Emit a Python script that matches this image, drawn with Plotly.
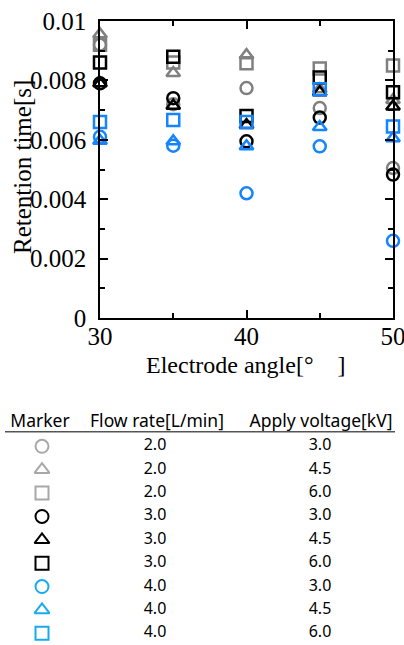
import plotly.graph_objects as go

angles = [30, 35, 40, 45, 50]

# Retention time [s]
gray_circle = [0.0092, 0.0072, 0.00774, 0.00707, 0.00505]
gray_triangle = [0.00955, 0.00825, 0.00885, 0.0077, 0.00734]
gray_square = [0.0092, 0.0086, 0.00858, 0.0084, 0.0085]
black_circle = [0.0079, 0.0074, 0.00595, 0.00675, 0.00483]
black_triangle = [0.0079, 0.00715, 0.0065, 0.0076, 0.00712]
black_square = [0.0086, 0.0088, 0.0068, 0.0081, 0.0076]
blue_circle = [0.0061, 0.0058, 0.0042, 0.00578, 0.0026]
blue_triangle = [0.00597, 0.00595, 0.00578, 0.00643, 0.00605]
blue_square = [0.0066, 0.00667, 0.0066, 0.0077, 0.00645]

flow_rates = ["2.0", "2.0", "2.0", "3.0", "3.0", "3.0", "4.0", "4.0", "4.0"]
voltages = ["3.0", "4.5", "6.0", "3.0", "4.5", "6.0", "3.0", "4.5", "6.0"]
symbols = ["circle-open", "triangle-up-open", "square-open"] * 3
plot_colors = ["#808080"] * 3 + ["#000000"] * 3 + ["#1484ff"] * 3
table_colors = ["#a8a8a8"] * 3 + ["#000000"] * 3 + ["#19aaee"] * 3
headers = ["Marker", "Flow rate[L/min]", "Apply voltage[kV]"]

y_tickvals = [0, 0.002, 0.004, 0.006, 0.008, 0.01]
y_ticktext = ["0", "0.002", "0.004", "0.006", "0.008", "0.01"]
x_tickvals = [30, 40, 50]

series = [gray_circle, gray_triangle, gray_square,
          black_circle, black_triangle, black_square,
          blue_circle, blue_triangle, blue_square]

W, H = 404, 645
fig = go.Figure()

for vals, sym, col in zip(series, symbols, plot_colors):
    fig.add_trace(go.Scatter(
        x=angles, y=vals, mode="markers", cliponaxis=False,
        marker=dict(symbol=sym, size=12, color=col, line=dict(color=col, width=2.5)),
        showlegend=False, xaxis="x", yaxis="y"))

# table
rows = list(range(len(flow_rates)))
col_x = [42, 155, 320]
tfont = "Noto Sans"
fig.add_trace(go.Scatter(
    x=[col_x[0]] * len(rows), y=rows, mode="markers", cliponaxis=False,
    marker=dict(symbol=symbols, size=13, color=table_colors,
                line=dict(color=table_colors, width=2)),
    showlegend=False, xaxis="x2", yaxis="y2"))
fig.add_trace(go.Scatter(
    x=[col_x[1]] * len(rows), y=rows, mode="text", text=flow_rates, cliponaxis=False,
    textfont=dict(family=tfont, size=16, color="#000"),
    showlegend=False, xaxis="x2", yaxis="y2"))
fig.add_trace(go.Scatter(
    x=[col_x[2]] * len(rows), y=rows, mode="text", text=voltages, cliponaxis=False,
    textfont=dict(family=tfont, size=16, color="#000"),
    showlegend=False, xaxis="x2", yaxis="y2"))
fig.add_trace(go.Scatter(
    x=[40, 157, 321], y=[-1, -1, -1], mode="text", text=headers, cliponaxis=False,
    textfont=dict(family=tfont, size=17.5, color="#000"),
    showlegend=False, xaxis="x2", yaxis="y2"))

fig.add_shape(type="line", xref="x2", yref="y2", x0=5, x1=395, y0=-0.62, y1=-0.62,
              line=dict(color="#555", width=1.5))

serif = "Liberation Serif"
axis_common = dict(showline=True, linecolor="black", linewidth=1.5, mirror="allticks",
                   ticks="inside", ticklen=8, tickwidth=1.5, tickcolor="black",
                   showgrid=False, zeroline=False, automargin=False,
                   ticklabeloverflow="allow",
                   tickfont=dict(family=serif, size=25, color="black"))

fig.update_layout(
    width=W, height=H, margin=dict(l=0, r=0, t=0, b=0, autoexpand=False),
    paper_bgcolor="white", plot_bgcolor="rgba(0,0,0,0)",
    xaxis=dict(domain=[100 / W, 393 / W], range=[30, 50], tickvals=x_tickvals,
               minor=dict(ticks="inside", dtick=5, ticklen=5, tickwidth=1.5, tickcolor="black"),
               ticklabelstandoff=-5, anchor="y", **axis_common),
    yaxis=dict(domain=[(H - 318) / H, (H - 21) / H], range=[0, 0.01],
               tickvals=y_tickvals, ticktext=y_ticktext,
               minor=dict(ticks="inside", dtick=0.001, ticklen=5, tickwidth=1.5, tickcolor="black"),
               ticklabelstandoff=7, anchor="x", **axis_common),
    xaxis2=dict(domain=[0, 1], range=[0, W], visible=False, anchor="y2", automargin=False),
    yaxis2=dict(domain=[0, (H - 411.25) / H], range=[8.5, -1.5], visible=False,
                anchor="x2", automargin=False),
    annotations=[
        dict(text="Retention time[s]", xref="paper", yref="paper",
             x=22 / W, y=(H - 167) / H, textangle=-90, showarrow=False,
             font=dict(family=serif, size=25, color="black"), xanchor="center", yanchor="middle"),
        dict(text="Electrode angle[°\u00a0\u00a0\u00a0\u00a0]", xref="paper", yref="paper",
             x=246 / W, y=(H - 365) / H, showarrow=False,
             font=dict(family=serif, size=24, color="black"), xanchor="center", yanchor="middle"),
    ],
)

fig.write_html("out.html")
